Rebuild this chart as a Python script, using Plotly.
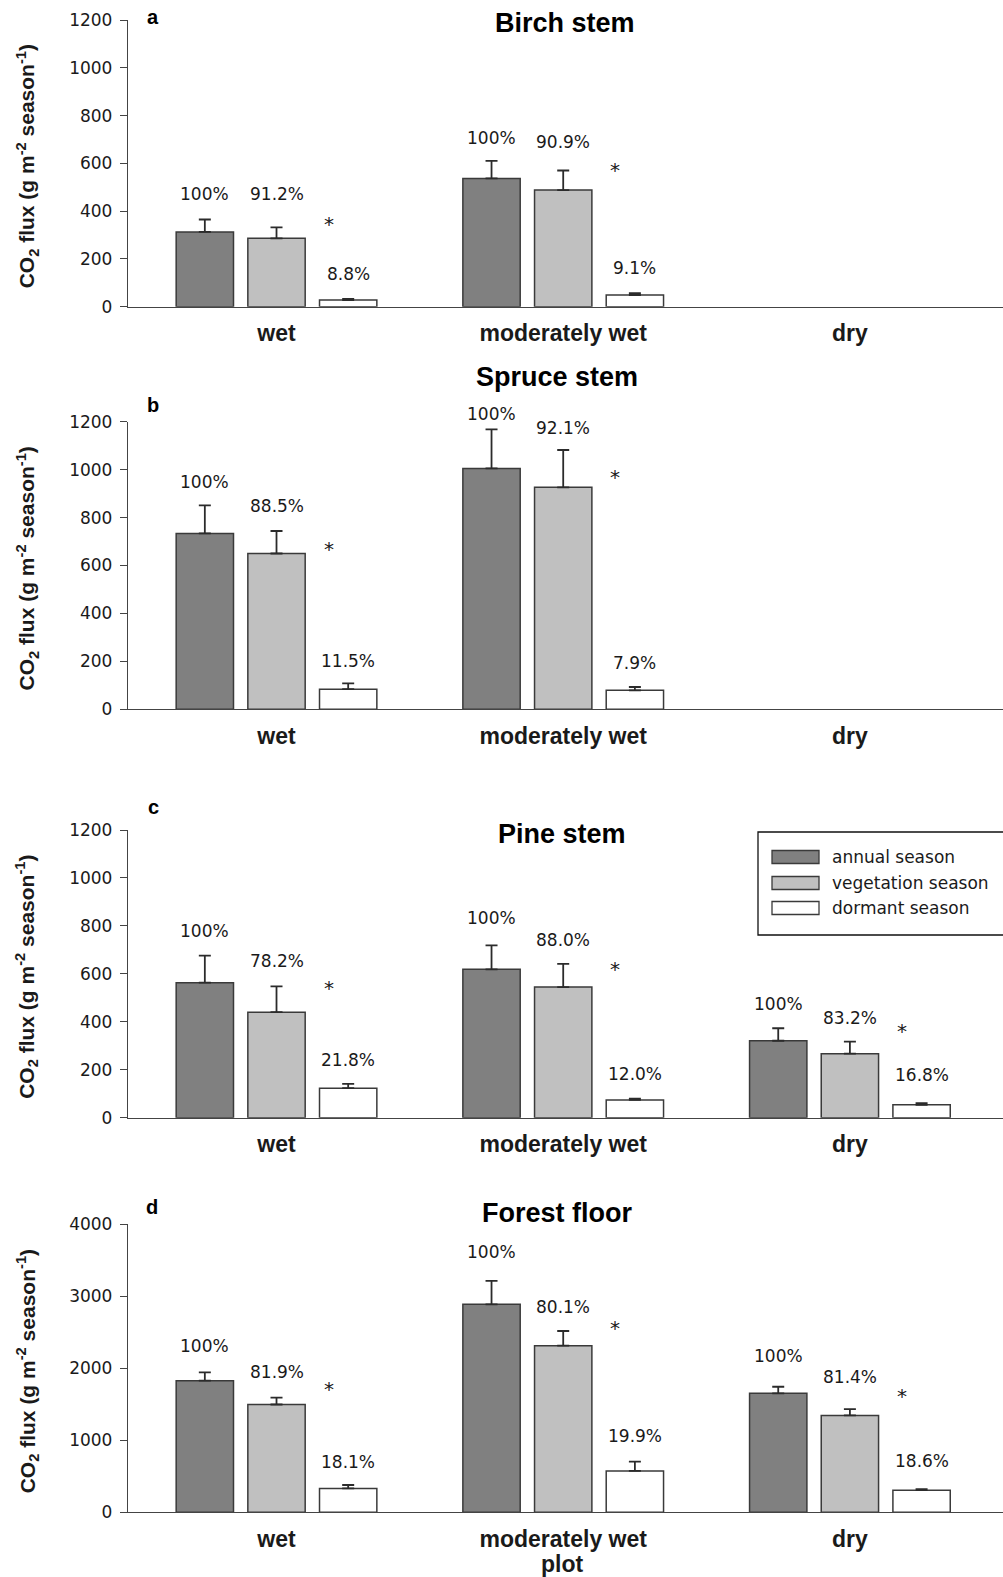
import plotly.graph_objects as go

# ---------------------------------------------------------------------------
# Data: seasonal CO2 flux (g m-2 season-1), mean and standard error
# ---------------------------------------------------------------------------
categories = ["wet", "moderately wet", "dry"]
series_names = ["annual season", "vegetation season", "dormant season"]

# a) Birch stem (no birch on the dry plot)
birch_annual = [313, 537]
birch_annual_se = [52, 73]
birch_veg = [286, 488]
birch_veg_se = [46, 82]
birch_dorm = [28, 49]
birch_dorm_se = [5, 8]
birch_pct_annual = ["100%", "100%"]
birch_pct_veg = ["91.2%", "90.9%"]
birch_pct_dorm = ["8.8%", "9.1%"]

# b) Spruce stem (no spruce on the dry plot)
spruce_annual = [734, 1005]
spruce_annual_se = [117, 163]
spruce_veg = [650, 926]
spruce_veg_se = [94, 156]
spruce_dorm = [84, 79]
spruce_dorm_se = [24, 14]
spruce_pct_annual = ["100%", "100%"]
spruce_pct_veg = ["88.5%", "92.1%"]
spruce_pct_dorm = ["11.5%", "7.9%"]

# c) Pine stem
pine_annual = [563, 619, 321]
pine_annual_se = [113, 100, 52]
pine_veg = [440, 545, 267]
pine_veg_se = [108, 97, 50]
pine_dorm = [123, 74, 54]
pine_dorm_se = [18, 5, 7]
pine_pct_annual = ["100%", "100%", "100%"]
pine_pct_veg = ["78.2%", "88.0%", "83.2%"]
pine_pct_dorm = ["21.8%", "12.0%", "16.8%"]

# d) Forest floor
floor_annual = [1828, 2889, 1653]
floor_annual_se = [116, 324, 91]
floor_veg = [1497, 2314, 1346]
floor_veg_se = [97, 204, 88]
floor_dorm = [331, 575, 307]
floor_dorm_se = [48, 128, 14]
floor_pct_annual = ["100%", "100%", "100%"]
floor_pct_veg = ["81.9%", "80.1%", "81.4%"]
floor_pct_dorm = ["18.1%", "19.9%", "18.6%"]

# ---------------------------------------------------------------------------
# Page geometry and styles
# ---------------------------------------------------------------------------
W, H = 1003, 1577
NORMAL = "DejaVu Sans"
BOLD = "Liberation Sans, Arial"
AXIS_COLOR = "#444444"
TEXT_COLOR = "#1a1a1a"
FILLS = ["#808080", "#c0c0c0", "#ffffff"]
EDGE = "#3a3a3a"


def px_x(px):
    return px / W


def px_y(py):
    return 1 - py / H


X_LEFT, X_RIGHT = 128, 1003
X_RANGE = [-0.518, 2.534]
SLOT = 0.25  # grouped bar offset, follows from bargap

panels = [
    dict(letter="a", title="Birch stem", top=20.0, bottom=306.7, ymax=1200, dtick=200,
         title_xy=(565, 23), letter_xy=(153, 17),
         series=[(birch_annual, birch_annual_se, birch_pct_annual),
                 (birch_veg, birch_veg_se, birch_pct_veg),
                 (birch_dorm, birch_dorm_se, birch_pct_dorm)],
         label_y=[[467, 700], [467, 686], [133, 158]],
         star_y=[346, 571]),
    dict(letter="b", title="Spruce stem", top=421.7, bottom=709.3, ymax=1200, dtick=200,
         title_xy=(557, 377), letter_xy=(153, 405),
         series=[(spruce_annual, spruce_annual_se, spruce_pct_annual),
                 (spruce_veg, spruce_veg_se, spruce_pct_veg),
                 (spruce_dorm, spruce_dorm_se, spruce_pct_dorm)],
         label_y=[[943, 1228], [845, 1169], [199, 189]],
         star_y=[667, 968]),
    dict(letter="c", title="Pine stem", top=830.0, bottom=1117.7, ymax=1200, dtick=200,
         title_xy=(562, 834), letter_xy=(153, 807),
         series=[(pine_annual, pine_annual_se, pine_pct_annual),
                 (pine_veg, pine_veg_se, pine_pct_veg),
                 (pine_dorm, pine_dorm_se, pine_pct_dorm)],
         label_y=[[776, 827, 470], [651, 738, 410], [236, 178, 174]],
         star_y=[540, 619, 362]),
    dict(letter="d", title="Forest floor", top=1224.3, bottom=1512.3, ymax=4000, dtick=1000,
         title_xy=(557, 1213), letter_xy=(152, 1207),
         series=[(floor_annual, floor_annual_se, floor_pct_annual),
                 (floor_veg, floor_veg_se, floor_pct_veg),
                 (floor_dorm, floor_dorm_se, floor_pct_dorm)],
         label_y=[[2300, 3597, 2161], [1931, 2833, 1861], [689, 1050, 703]],
         star_y=[1708, 2556, 1615]),
]

fig = go.Figure()
annotations = []
shapes = []

for i, p in enumerate(panels):
    n = i + 1
    xa = "x" if n == 1 else f"x{n}"
    ya = "y" if n == 1 else f"y{n}"
    px_per_unit = (p["bottom"] - p["top"]) / p["ymax"]

    for k, (vals, se, pct) in enumerate(p["series"]):
        xs = list(range(len(vals)))
        fig.add_trace(go.Bar(
            x=xs, y=vals, name=series_names[k], xaxis=xa, yaxis=ya,
            offsetgroup=str(k), showlegend=False,
            marker=dict(color=FILLS[k], line=dict(color=EDGE, width=1.5)),
            error_y=dict(type="data", symmetric=False, array=se,
                         arrayminus=[0] * len(se), color="#2b2b2b",
                         thickness=1.8, width=6),
        ))
        # percentage labels above each bar
        for j, txt in enumerate(pct):
            y_lab = p["label_y"][k][j]
            y_in = min(y_lab, p["ymax"])
            annotations.append(dict(
                x=j + (k - 1) * SLOT, y=y_in, xref=xa, yref=ya, text=txt,
                showarrow=False, yanchor="middle", xanchor="center",
                yshift=(y_lab - y_in) * px_per_unit + 1,
                font=dict(family=NORMAL, size=17, color=TEXT_COLOR)))

    # significance marks next to the dormant bars
    for j, sy in enumerate(p["star_y"]):
        annotations.append(dict(
            x=j + SLOT - 0.068, y=sy, xref=xa, yref=ya, text="*",
            showarrow=False, yanchor="middle", xanchor="center",
            font=dict(family=NORMAL, size=20, color=TEXT_COLOR)))

    y_dom = [px_y(p["bottom"]), px_y(p["top"])]
    fig.layout[f"xaxis{'' if n == 1 else n}"] = dict(
        domain=[px_x(X_LEFT), px_x(X_RIGHT)], range=X_RANGE, anchor=ya,
        automargin=False,
        tickmode="array", tickvals=[0, 1, 2],
        ticktext=[f"<b>{c}</b>" for c in categories],
        tickfont=dict(family=BOLD, size=23, color=TEXT_COLOR),
        ticks="", ticklabelstandoff=6,
        showline=True, linecolor=AXIS_COLOR, linewidth=1.3,
        showgrid=False, zeroline=False, fixedrange=True)
    fig.layout[f"yaxis{'' if n == 1 else n}"] = dict(
        domain=y_dom, range=[0, p["ymax"]], anchor=xa,
        automargin=False,
        tickmode="linear", tick0=0, dtick=p["dtick"],
        ticks="outside", ticklen=7, tickwidth=1.3, tickcolor=AXIS_COLOR,
        tickfont=dict(family=NORMAL, size=17, color=TEXT_COLOR),
        ticklabelstandoff=4,
        showline=True, linecolor=AXIS_COLOR, linewidth=1.3,
        showgrid=False, zeroline=False, fixedrange=True)

    # panel title, panel letter and y-axis title
    tx, ty = p["title_xy"]
    annotations.append(dict(
        x=px_x(tx), y=px_y(ty), xref="paper", yref="paper",
        text=f"<b>{p['title']}</b>", showarrow=False,
        xanchor="center", yanchor="middle",
        font=dict(family=BOLD, size=27, color="#000000")))
    lx, ly = p["letter_xy"]
    annotations.append(dict(
        x=px_x(lx), y=px_y(ly), xref="paper", yref="paper",
        text=f"<b>{p['letter']}</b>", showarrow=False,
        xanchor="center", yanchor="middle",
        font=dict(family=BOLD, size=20, color="#000000")))
    annotations.append(dict(
        x=px_x(27), y=px_y((p["top"] + p["bottom"]) / 2 + 3), xref="paper", yref="paper",
        text="<b>CO<sub>2</sub> flux (g m<sup>-2</sup> season<sup>-1</sup>)</b>",
        textangle=-90, showarrow=False, xanchor="center", yanchor="middle",
        font=dict(family=BOLD, size=21, color=TEXT_COLOR)))

# x-axis title under the last panel
annotations.append(dict(
    x=px_x(562), y=px_y(1564), xref="paper", yref="paper", text="<b>plot</b>",
    showarrow=False, xanchor="center", yanchor="middle",
    font=dict(family=BOLD, size=23, color=TEXT_COLOR)))

# legend box inside the Pine stem panel
shapes.append(dict(type="rect", xref="paper", yref="paper",
                   x0=px_x(758), x1=px_x(1012), y0=px_y(935), y1=px_y(832),
                   line=dict(color="#111111", width=1.3), fillcolor="white", layer="below"))
legend_rows = [857, 883, 908]
for k, name in enumerate(series_names):
    cy = legend_rows[k]
    shapes.append(dict(type="rect", xref="paper", yref="paper",
                       x0=px_x(772), x1=px_x(819), y0=px_y(cy + 6.5), y1=px_y(cy - 6.5),
                       line=dict(color=EDGE, width=1.3), fillcolor=FILLS[k]))
    annotations.append(dict(
        x=px_x(830), y=px_y(cy), xref="paper", yref="paper", text=name,
        showarrow=False, xanchor="left", yanchor="middle",
        font=dict(family=NORMAL, size=17, color=TEXT_COLOR)))

fig.update_layout(
    width=W, height=H,
    margin=dict(l=0, r=0, t=0, b=0, autoexpand=False),
    paper_bgcolor="white", plot_bgcolor="white",
    barmode="group", bargap=0.25, bargroupgap=0.2,
    showlegend=False,
    annotations=annotations, shapes=shapes,
)

fig.write_html("out.html")
